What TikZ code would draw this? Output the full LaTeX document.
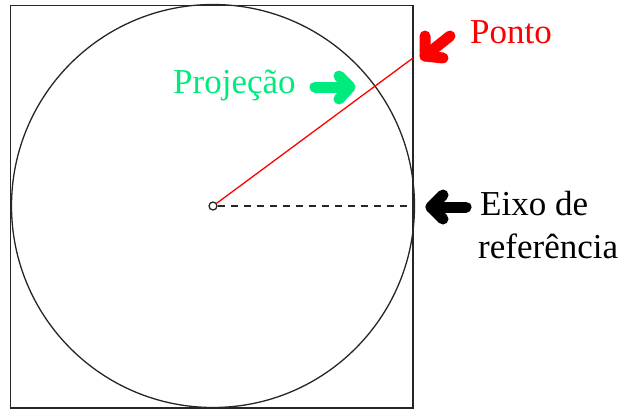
\documentclass[tikz,border=0pt]{standalone}
\usepackage{fontspec}
\setmainfont{Liberation Serif}
\definecolor{projgreen}{RGB}{0,235,125}
\begin{document}
\begin{tikzpicture}[x=1pt,y=-1pt,
  frame/.style={draw=black!85,line width=1.5pt},
  lbl/.style={anchor=base west,inner sep=0pt,font=\fontsize{35}{43}\selectfont},
  pointer/.style={line width=11pt,line cap=round,line join=round},
  axis/.style={draw=black!85,line width=1.3pt,dash pattern=on 7pt off 6pt}]
\useasboundingbox (0,0) rectangle (624,410);
\draw[frame] (10.5,5.5) rectangle (413,408);
\draw[draw=black!85,line width=1.3pt] (213,206) circle (201.5);
\node[draw=black!85,line width=1.3pt,circle,minimum size=8pt,inner sep=0pt] (o) at (213,206) {};
\coordinate (p) at (413,58);
\coordinate (r) at (413,206);
\draw[red,line width=1.3pt] (o) -- (p);
\draw[axis] (o) -- (r);
\node[lbl,text=red] (ponto) at (470,43) {Ponto};
\node[lbl,text=projgreen] (proj) at (173,93) {Projeção};
\node[lbl] (eixo1) at (480,215) {Eixo de};
\node[lbl] (eixo2) at (478,258) {referência};
% pointers
\draw[pointer,red] (450,36) -- (425,56);
\draw[pointer,red] (425,36) -- (425,56) -- (443,58);
\draw[pointer,projgreen] (315,87) -- (349,87);
\draw[pointer,projgreen] (339,76) -- (350,87) -- (339,99);
\draw[pointer,black] (466,207) -- (431,207);
\draw[pointer,black] (443,195) -- (431,207) -- (443,219);
\end{tikzpicture}
\end{document}
